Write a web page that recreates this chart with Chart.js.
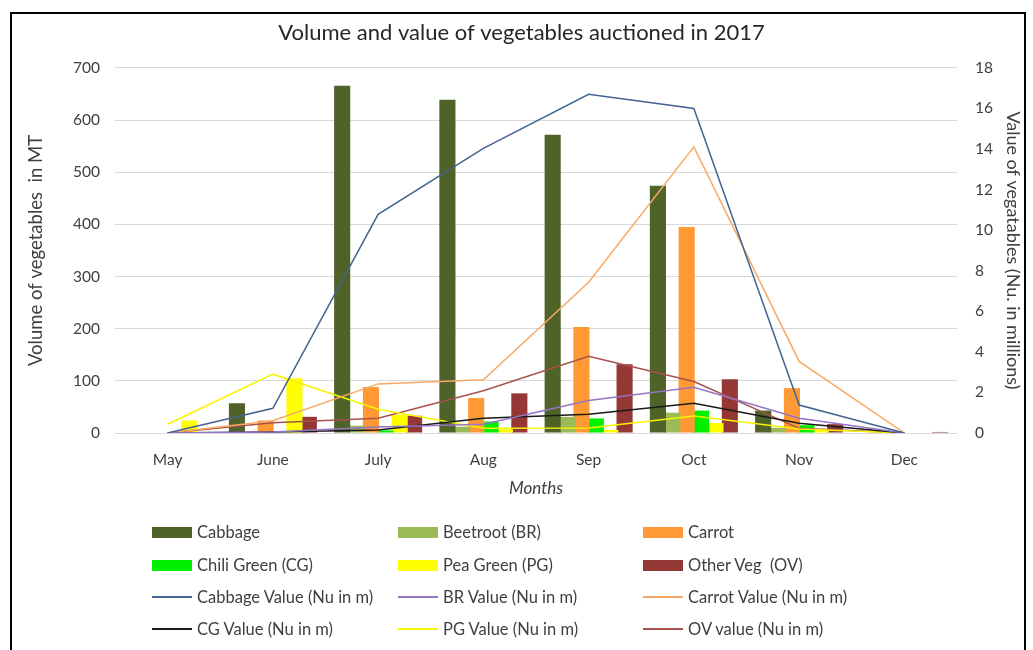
<!DOCTYPE html>
<html>
<head>
<meta charset="utf-8">
<script src="https://cdn.jsdelivr.net/npm/chart.js@4.4.1/dist/chart.umd.min.js"></script>
<style>
  body { margin: 0; background: #fff; }
  #wrap { position: relative; width: 1033px; height: 650px; overflow: hidden; font-family: Lato, "Liberation Sans", sans-serif; }
  #frame { position: absolute; left: 10px; top: 12px; width: 1016px; height: 700px; border: 2px solid #000; box-sizing: border-box; pointer-events: none; }
  #legend { position: absolute; left: 0; top: 0; }
  .item { position: absolute; display: flex; align-items: center; font-size: 16.5px; color: #404040; white-space: pre; }
  .sw { width: 40px; margin-right: 5px; }
</style>
</head>
<body>
<div id="wrap">
  <canvas id="vegChart" width="1033" height="650"></canvas>
  <div id="legend"></div>
  <div id="frame"></div>
</div>
<script>
const months = ['May', 'June', 'July', 'Aug', 'Sep', 'Oct', 'Nov', 'Dec'];

// volume in MT (left axis)
const cabbage   = [0, 57, 666, 639, 572, 474, 43, 0];
const beetroot  = [0, 1, 14, 12, 31, 39, 10, 0];
const carrot    = [1, 24, 88, 67, 203, 395, 86, 0];
const chili     = [0, 1, 5, 22, 28, 43, 15, 0];
const peaGreen  = [24, 105, 35, 7, 6, 19, 5, 0];
const otherVeg  = [2, 31, 33, 76, 132, 103, 17, 2];

// value in Nu. millions (right axis)
const cabbageVal = [0, 1.22, 10.78, 14.03, 16.7, 16.0, 1.38, 0];
const brVal      = [0, 0.05, 0.3, 0.43, 1.6, 2.26, 0.73, 0];
const carrotVal  = [0, 0.6, 2.42, 2.62, 7.43, 14.11, 3.53, 0];
const cgVal      = [0, 0.05, 0.15, 0.73, 0.92, 1.47, 0.48, 0];
const pgVal      = [0.43, 2.9, 1.17, 0.23, 0.25, 0.84, 0.2, 0];
const ovVal      = [0, 0.51, 0.73, 2.08, 3.78, 2.54, 0.23, 0];

const leftTicks = { min: 0, max: 700, step: 100 };
const rightTicks = { min: 0, max: 18, step: 2 };

function bar(label, data, color) {
  return { type: 'bar', label, data, backgroundColor: color, yAxisID: 'y', order: 1,
           categoryPercentage: 0.82, barPercentage: 1.12 };
}
function line(label, data, color) {
  return { type: 'line', label, data, borderColor: color, backgroundColor: color, yAxisID: 'y1',
           borderWidth: 1.5, pointRadius: 0, tension: 0, order: 0 };
}

const datasets = [
  bar('Cabbage', cabbage, '#4F6228'),
  bar('Beetroot (BR)', beetroot, '#9BBB59'),
  bar('Carrot', carrot, '#FF9933'),
  bar('Chili Green (CG)', chili, '#00F000'),
  bar('Pea Green (PG)', peaGreen, '#FFFF00'),
  bar('Other Veg  (OV)', otherVeg, '#953735'),
  line('Cabbage Value (Nu in m)', cabbageVal, '#44648F'),
  line('BR Value (Nu in m)', brVal, '#9575C5'),
  line('Carrot Value (Nu in m)', carrotVal, '#F9A964'),
  line('CG Value (Nu in m)', cgVal, '#1A1A1A'),
  line('PG Value (Nu in m)', pgVal, '#F5F500'),
  line('OV value (Nu in m)', ovVal, '#A8524F')
];

const fontFam = 'Lato, "Liberation Sans", sans-serif';
Chart.defaults.font.family = fontFam;
Chart.defaults.color = '#404040';

const ctx = document.getElementById('vegChart').getContext('2d');
new Chart(ctx, {
  data: { labels: months, datasets },
  options: {
    responsive: false,
    animation: false,
    layout: { padding: { left: 10, right: 0, top: 12, bottom: 151 } },
    plugins: {
      legend: { display: false },
      tooltip: { enabled: false },
      title: {
        display: true,
        text: 'Volume and value of vegetables auctioned in 2017',
        font: { size: 22, weight: 'normal' },
        color: '#262626',
        padding: { top: 7.5, bottom: 22 }
      }
    },
    scales: {
      x: {
        grid: { display: false, drawTicks: false },
        border: { display: false },
        ticks: { font: { size: 15.5 }, padding: 18 },
        title: { display: true, text: 'Months', font: { size: 17, style: 'italic' }, padding: { top: 0, bottom: 0 } },
        afterFit: s => { s.height = 66; }
      },
      y: {
        position: 'left',
        min: leftTicks.min, max: leftTicks.max,
        ticks: { stepSize: leftTicks.step, font: { size: 15.5 }, padding: 15 },
        grid: { color: '#D9D9D9', drawTicks: false },
        border: { display: false },
        title: { display: true, text: 'Volume of vegetables  in MT', font: { size: 18.5 }, padding: { top: 15, bottom: 0 } },
        afterFit: s => { s.width = 105; }
      },
      y1: {
        position: 'right',
        min: rightTicks.min, max: rightTicks.max,
        ticks: { stepSize: rightTicks.step, font: { size: 15.5 }, padding: 18 },
        grid: { display: false, drawTicks: false },
        border: { display: false },
        title: { display: true, text: 'Value of vegatables (Nu. in millions)', font: { size: 18 }, padding: { top: 9, bottom: 0 } },
        afterFit: s => { s.width = 76; }
      }
    }
  }
});

// legend in three columns, same order as the series
const legendCols = [152, 398, 643];
const legendRows = [532, 565, 597, 629];
const legendEl = document.getElementById('legend');
datasets.forEach((ds, i) => {
  const item = document.createElement('div');
  item.className = 'item';
  item.style.left = legendCols[i % 3] + 'px';
  item.style.top = (legendRows[Math.floor(i / 3)] - 10) + 'px';
  item.style.height = '20px';
  const sw = document.createElement('span');
  sw.className = 'sw';
  if (ds.type === 'bar') {
    sw.style.height = '11px';
    sw.style.background = ds.backgroundColor;
  } else {
    sw.style.height = '1.5px';
    sw.style.background = ds.borderColor;
  }
  item.appendChild(sw);
  item.appendChild(document.createTextNode(ds.label));
  legendEl.appendChild(item);
});
</script>
</body>
</html>
